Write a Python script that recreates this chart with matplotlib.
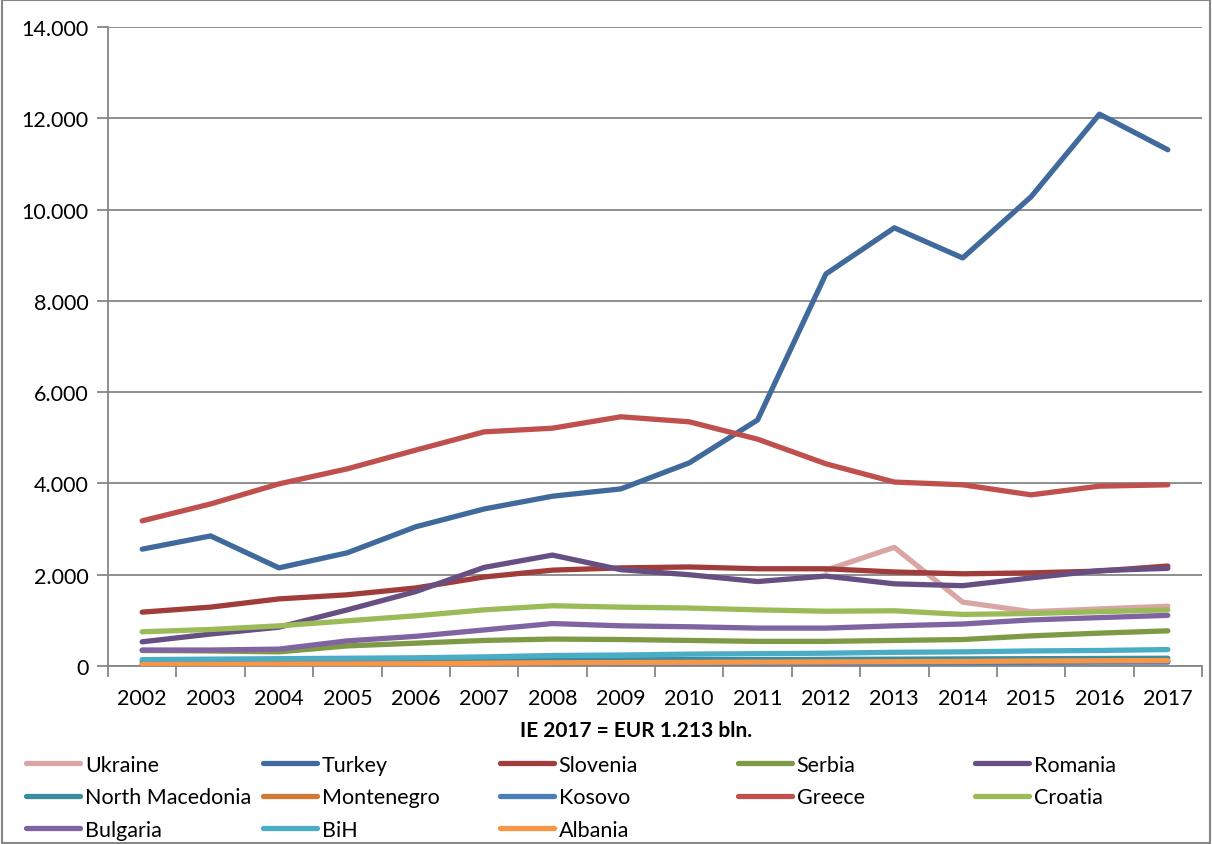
import numpy as np
import matplotlib
matplotlib.use("Agg")
import matplotlib.pyplot as plt
from matplotlib.ticker import FuncFormatter, MultipleLocator, FixedLocator
from matplotlib.patches import Rectangle

plt.rcParams['font.family'] = ['Lato', 'DejaVu Sans']

years = list(range(2002, 2018))
nan = np.nan

ukraine = [nan]*10 + [2100, 2600, 1400, 1190, 1250, 1310]
turkey = [2560, 2850, 2150, 2480, 3050, 3440, 3720, 3880, 4450, 5390, 8590, 9600, 8940, 10280, 12090, 11310]
slovenia = [1180, 1290, 1470, 1560, 1710, 1950, 2100, 2150, 2170, 2130, 2130, 2060, 2020, 2040, 2080, 2190]
serbia = [340, 330, 310, 440, 500, 560, 590, 580, 560, 540, 540, 560, 580, 660, 720, 770]
romania = [530, 700, 850, 1230, 1630, 2160, 2430, 2110, 2000, 1850, 1970, 1800, 1760, 1930, 2090, 2140]
north_macedonia = [100, 100, 105, 110, 115, 120, 130, 135, 140, 140, 145, 150, 155, 160, 165, 170]
montenegro = [40, 40, 45, 50, 55, 60, 70, 70, 70, 70, 75, 80, 85, 90, 95, 100]
kosovo = [30, 35, 40, 45, 50, 55, 60, 60, 65, 65, 70, 70, 75, 80, 85, 85]
greece = [3180, 3550, 3990, 4320, 4730, 5130, 5210, 5460, 5350, 4970, 4430, 4030, 3970, 3750, 3940, 3970]
croatia = [750, 800, 880, 990, 1100, 1230, 1320, 1290, 1270, 1230, 1200, 1210, 1130, 1150, 1190, 1230]
bulgaria = [350, 350, 370, 550, 650, 790, 930, 880, 860, 830, 830, 880, 920, 1010, 1060, 1110]
bih = [140, 150, 160, 170, 180, 200, 230, 240, 260, 270, 280, 300, 310, 330, 340, 360]
albania = [30, 35, 40, 45, 50, 60, 70, 75, 80, 85, 90, 95, 100, 110, 115, 120]

series = [
    ("Ukraine", ukraine, "#D9A6A4"),
    ("Turkey", turkey, "#40699C"),
    ("Slovenia", slovenia, "#A03D3A"),
    ("Serbia", serbia, "#7F9A45"),
    ("Romania", romania, "#674F84"),
    ("North Macedonia", north_macedonia, "#3B8C9F"),
    ("Montenegro", montenegro, "#D07A35"),
    ("Kosovo", kosovo, "#4A7EBB"),
    ("Greece", greece, "#C0504D"),
    ("Croatia", croatia, "#9BBB59"),
    ("Bulgaria", bulgaria, "#8064A2"),
    ("BiH", bih, "#4BACC6"),
    ("Albania", albania, "#F79646"),
]

W, H = 1212, 845
fig = plt.figure(figsize=(W/100, H/100), dpi=100)
L, R, T, B = 108, 1202, 28, 667
ax = fig.add_axes([L/W, 1-B/H, (R-L)/W, (B-T)/H])

handles = []
for name, vals, col in series:
    h, = ax.plot(years, vals, color=col, lw=3.8, solid_capstyle='round',
                 solid_joinstyle='round', label=name)
    handles.append(h)

grid_col = "#868686"
ax.set_xlim(2001.5, 2017.5)
ax.set_ylim(0, 14000)
ax.yaxis.set_major_locator(MultipleLocator(2000))
ax.yaxis.set_major_formatter(FuncFormatter(lambda v, p: "0" if v == 0 else f"{int(v):,}".replace(",", ".")))
ax.set_xticks(years)
ax.set_xticklabels([str(y) for y in years])
ax.xaxis.set_minor_locator(FixedLocator([y + 0.5 for y in range(2001, 2018)]))
ax.tick_params(axis='x', which='major', length=0, pad=16, labelsize=15.5, colors='black')
ax.tick_params(axis='x', which='minor', length=8, width=1.3, color=grid_col, direction='out')
ax.tick_params(axis='y', which='major', length=8, width=1.3, color=grid_col, pad=6, labelsize=15.5, labelcolor='black')
ax.grid(axis='y', color=grid_col, lw=1.3)
ax.set_axisbelow(True)
for s in ['top', 'right']:
    ax.spines[s].set_visible(False)
for s in ['left', 'bottom']:
    ax.spines[s].set_color(grid_col)
    ax.spines[s].set_linewidth(1.3)
    ax.spines[s].set_zorder(0.5)

ax.set_xlabel("IE 2017 = EUR 1.213 bln.", fontsize=15, fontweight='bold')
ax.xaxis.set_label_coords((636 - L) / (R - L), (B - 721) / (B - T))

# legend: 5 columns, row-major order
col_x = [26, 263, 500, 738, 975]
for c in range(5):
    idx = [i for i in range(c, len(series), 5)]
    fig.legend([handles[i] for i in idx], [series[i][0] for i in idx],
               loc='upper left', bbox_to_anchor=(col_x[c]/W, 1-756/H),
               frameon=False, fontsize=15.5, handlelength=2.5, handletextpad=0.23,
               borderpad=0, borderaxespad=0, labelspacing=0.57)

fig.patches.append(Rectangle((0.0015, 0.0015), 0.997, 0.997, transform=fig.transFigure,
                             fill=False, edgecolor="#868686", lw=1.5))

fig.savefig("out.png", dpi=100)
